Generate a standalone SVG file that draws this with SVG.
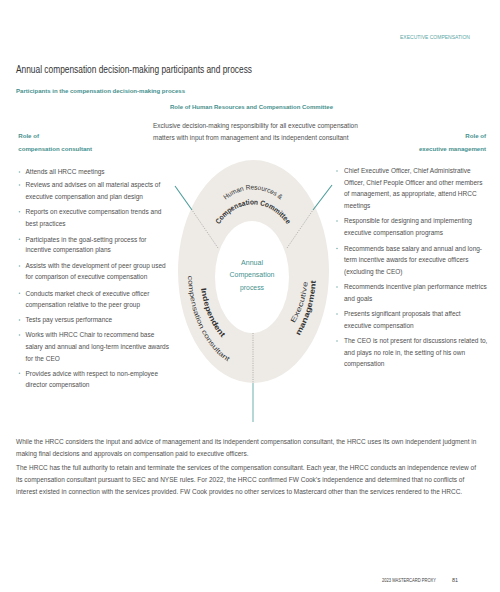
<svg xmlns="http://www.w3.org/2000/svg" width="500" height="592" viewBox="0 0 500 592">
<style>
text{font-family:"Liberation Sans",Arial,sans-serif}
.b{font-size:6.5px;fill:#505050}
.h{font-size:6.1px;font-weight:bold;fill:#46918e}
.t{font-size:10.5px;fill:#333}
.c{font-size:7.4px;fill:#46918e;text-anchor:middle}
.r{fill:#333}
.dot{fill:#7fb3b1}
.dash{stroke:#a5a5a5;stroke-width:0.9;stroke-dasharray:1 1.3;fill:none}
.sol{stroke:#4b9c9a;stroke-width:1.1;fill:none}
</style>
<defs>
<path id="pHR" d="M196,272 A57,82.5 0 0 1 310,272"/>
<path id="pCC" d="M205,272 A48,67.5 0 0 1 301,272"/>
<path id="pInd" d="M206.2,233.8 A53,81 0 0 0 254.9,352.9"/>
<path id="pCon" d="M195.6,226.3 A65,97 0 0 0 255.3,368.9"/>
<path id="pExe" d="M258.8,348.6 A55,77 0 0 0 297.5,226.7"/>
<path id="pMan" d="M259.6,366 A63,94.5 0 0 0 304,216.5"/>
</defs>
<rect width="500" height="592" fill="#fff"/>

<g id="page-header">
<text x="470" y="38.5" font-size="5.4" fill="#5aa7a5" text-anchor="end" textLength="70" lengthAdjust="spacingAndGlyphs">EXECUTIVE COMPENSATION</text>
<text class="t" x="16" y="73" textLength="236" lengthAdjust="spacingAndGlyphs">Annual compensation decision-making participants and process</text>
<text class="h" x="16" y="92.5" textLength="169" lengthAdjust="spacingAndGlyphs">Participants in the compensation decision-making process</text>
</g>

<g id="ring">
<path fill="#eeebe6" fill-rule="evenodd" d="M178,271.5 A75.5,111.5 0 1 0 329,271.5 A75.5,111.5 0 1 0 178,271.5 Z M215,277 A37,56 0 1 1 289,277 A37,56 0 1 1 215,277 Z"/>
</g>

<g id="connectors">
<line class="dash" x1="218" y1="248" x2="192" y2="210"/>
<line class="sol" x1="192" y1="210" x2="175" y2="186"/>
<line class="dash" x1="287" y1="248" x2="313" y2="210"/>
<line class="sol" x1="313" y1="210" x2="332" y2="185"/>
<line class="dash" x1="253" y1="333" x2="253" y2="383"/>
<line x1="253" y1="383" x2="253" y2="422" stroke="#96c7c5" stroke-width="1.4"/>
</g>

<g id="node-hrcc">
<text class="h" x="170" y="109" textLength="163" lengthAdjust="spacingAndGlyphs">Role of Human Resources and Compensation Committee</text>
<text class="b" x="153" y="127.5">Exclusive decision-making responsibility for all executive compensation</text>
<text class="b" x="153" y="140">matters with input from management and its independent consultant</text>
<text class="r" font-size="6.8" text-anchor="middle"><textPath href="#pHR" startOffset="50%" textLength="60" lengthAdjust="spacingAndGlyphs">Human Resources &amp;</textPath></text>
<text class="r" font-size="7.4" font-weight="bold" text-anchor="middle"><textPath href="#pCC" startOffset="50%" textLength="82" lengthAdjust="spacingAndGlyphs">Compensation Committee</textPath></text>
</g>

<g id="node-center">
<text class="c" x="252" y="265" textLength="22" lengthAdjust="spacingAndGlyphs">Annual</text>
<text class="c" x="252" y="277" textLength="45" lengthAdjust="spacingAndGlyphs">Compensation</text>
<text class="c" x="252" y="290.3" textLength="24" lengthAdjust="spacingAndGlyphs">process</text>
</g>

<g id="node-consultant">
<text class="h" x="18.3" y="138">Role of</text>
<text class="h" x="18.3" y="151">compensation consultant</text>
<text class="r" font-size="7.4" font-weight="bold" text-anchor="middle"><textPath href="#pInd" startOffset="56%" textLength="54" lengthAdjust="spacingAndGlyphs">Independent</textPath></text>
<text class="r" font-size="6.8" text-anchor="middle"><textPath href="#pCon" startOffset="56%" textLength="98" lengthAdjust="spacingAndGlyphs">compensation consultant</textPath></text>
<g class="dot">
<circle cx="19.5" cy="172" r="0.8"/><circle cx="19.5" cy="185" r="0.8"/><circle cx="19.5" cy="211.7" r="0.8"/><circle cx="19.5" cy="239.3" r="0.8"/><circle cx="19.5" cy="266" r="0.8"/><circle cx="19.5" cy="293.3" r="0.8"/><circle cx="19.5" cy="320" r="0.8"/><circle cx="19.5" cy="335" r="0.8"/><circle cx="19.5" cy="373.3" r="0.8"/>
</g>
<g class="b">
<text x="25.5" y="174.4">Attends all HRCC meetings</text>
<text x="25.5" y="187.4">Reviews and advises on all material aspects of</text>
<text x="25.5" y="199.1">executive compensation and plan design</text>
<text x="25.5" y="214.1">Reports on executive compensation trends and</text>
<text x="25.5" y="225.7">best practices</text>
<text x="25.5" y="241.7">Participates in the goal-setting process for</text>
<text x="25.5" y="252.4">incentive compensation plans</text>
<text x="25.5" y="268.4">Assists with the development of peer group used</text>
<text x="25.5" y="279.1">for comparison of executive compensation</text>
<text x="25.5" y="295.7">Conducts market check of executive officer</text>
<text x="25.5" y="307.4">compensation relative to the peer group</text>
<text x="25.5" y="322.4">Tests pay versus performance</text>
<text x="25.5" y="337.4">Works with HRCC Chair to recommend base</text>
<text x="25.5" y="349.1">salary and annual and long-term incentive awards</text>
<text x="25.5" y="360.7">for the CEO</text>
<text x="25.5" y="375.7">Provides advice with respect to non-employee</text>
<text x="25.5" y="387.4">director compensation</text>
</g>
</g>

<g id="node-management">
<text class="h" x="486" y="138" text-anchor="end">Role of</text>
<text class="h" x="486" y="151" text-anchor="end">executive management</text>
<text class="r" font-size="7" text-anchor="middle"><textPath href="#pExe" startOffset="46%" textLength="44" lengthAdjust="spacingAndGlyphs">Executive</textPath></text>
<text class="r" font-size="7.4" font-weight="bold" text-anchor="middle"><textPath href="#pMan" startOffset="46%" textLength="58" lengthAdjust="spacingAndGlyphs">management</textPath></text>
<g class="dot">
<circle cx="337" cy="171" r="0.8"/><circle cx="337" cy="221" r="0.8"/><circle cx="337" cy="248.5" r="0.8"/><circle cx="337" cy="287" r="0.8"/><circle cx="337" cy="314" r="0.8"/><circle cx="337" cy="341" r="0.8"/>
</g>
<g class="b">
<text x="344" y="173.4">Chief Executive Officer, Chief Administrative</text>
<text x="344" y="184.9">Officer, Chief People Officer and other members</text>
<text x="344" y="196.4">of management, as appropriate, attend HRCC</text>
<text x="344" y="207.9">meetings</text>
<text x="344" y="223.4">Responsible for designing and implementing</text>
<text x="344" y="234.9">executive compensation programs</text>
<text x="344" y="250.9">Recommends base salary and annual and long-</text>
<text x="344" y="262.4">term incentive awards for executive officers</text>
<text x="344" y="273.9">(excluding the CEO)</text>
<text x="344" y="289.4">Recommends incentive plan performance metrics</text>
<text x="344" y="300.9">and goals</text>
<text x="344" y="316.4">Presents significant proposals that affect</text>
<text x="344" y="327.9">executive compensation</text>
<text x="344" y="343.4">The CEO is not present for discussions related to,</text>
<text x="344" y="354.9">and plays no role in, the setting of his own</text>
<text x="344" y="366.4">compensation</text>
</g>
</g>

<g id="body-text" class="b">
<text x="16" y="443.5">While the HRCC considers the input and advice of management and its independent compensation consultant, the HRCC uses its own independent judgment in</text>
<text x="16" y="455.5">making final decisions and approvals on compensation paid to executive officers.</text>
<text x="16" y="469.5">The HRCC has the full authority to retain and terminate the services of the compensation consultant. Each year, the HRCC conducts an independence review of</text>
<text x="16" y="481.5">its compensation consultant pursuant to SEC and NYSE rules. For 2022, the HRCC confirmed FW Cook’s independence and determined that no conflicts of</text>
<text x="16" y="493.5">interest existed in connection with the services provided. FW Cook provides no other services to Mastercard other than the services rendered to the HRCC.</text>
</g>

<g id="footer">
<text x="382" y="582" font-size="4.6" fill="#444" textLength="54" lengthAdjust="spacingAndGlyphs">2023 MASTERCARD PROXY</text>
<text x="452" y="582" font-size="5.4" fill="#444">81</text>
</g>
</svg>
